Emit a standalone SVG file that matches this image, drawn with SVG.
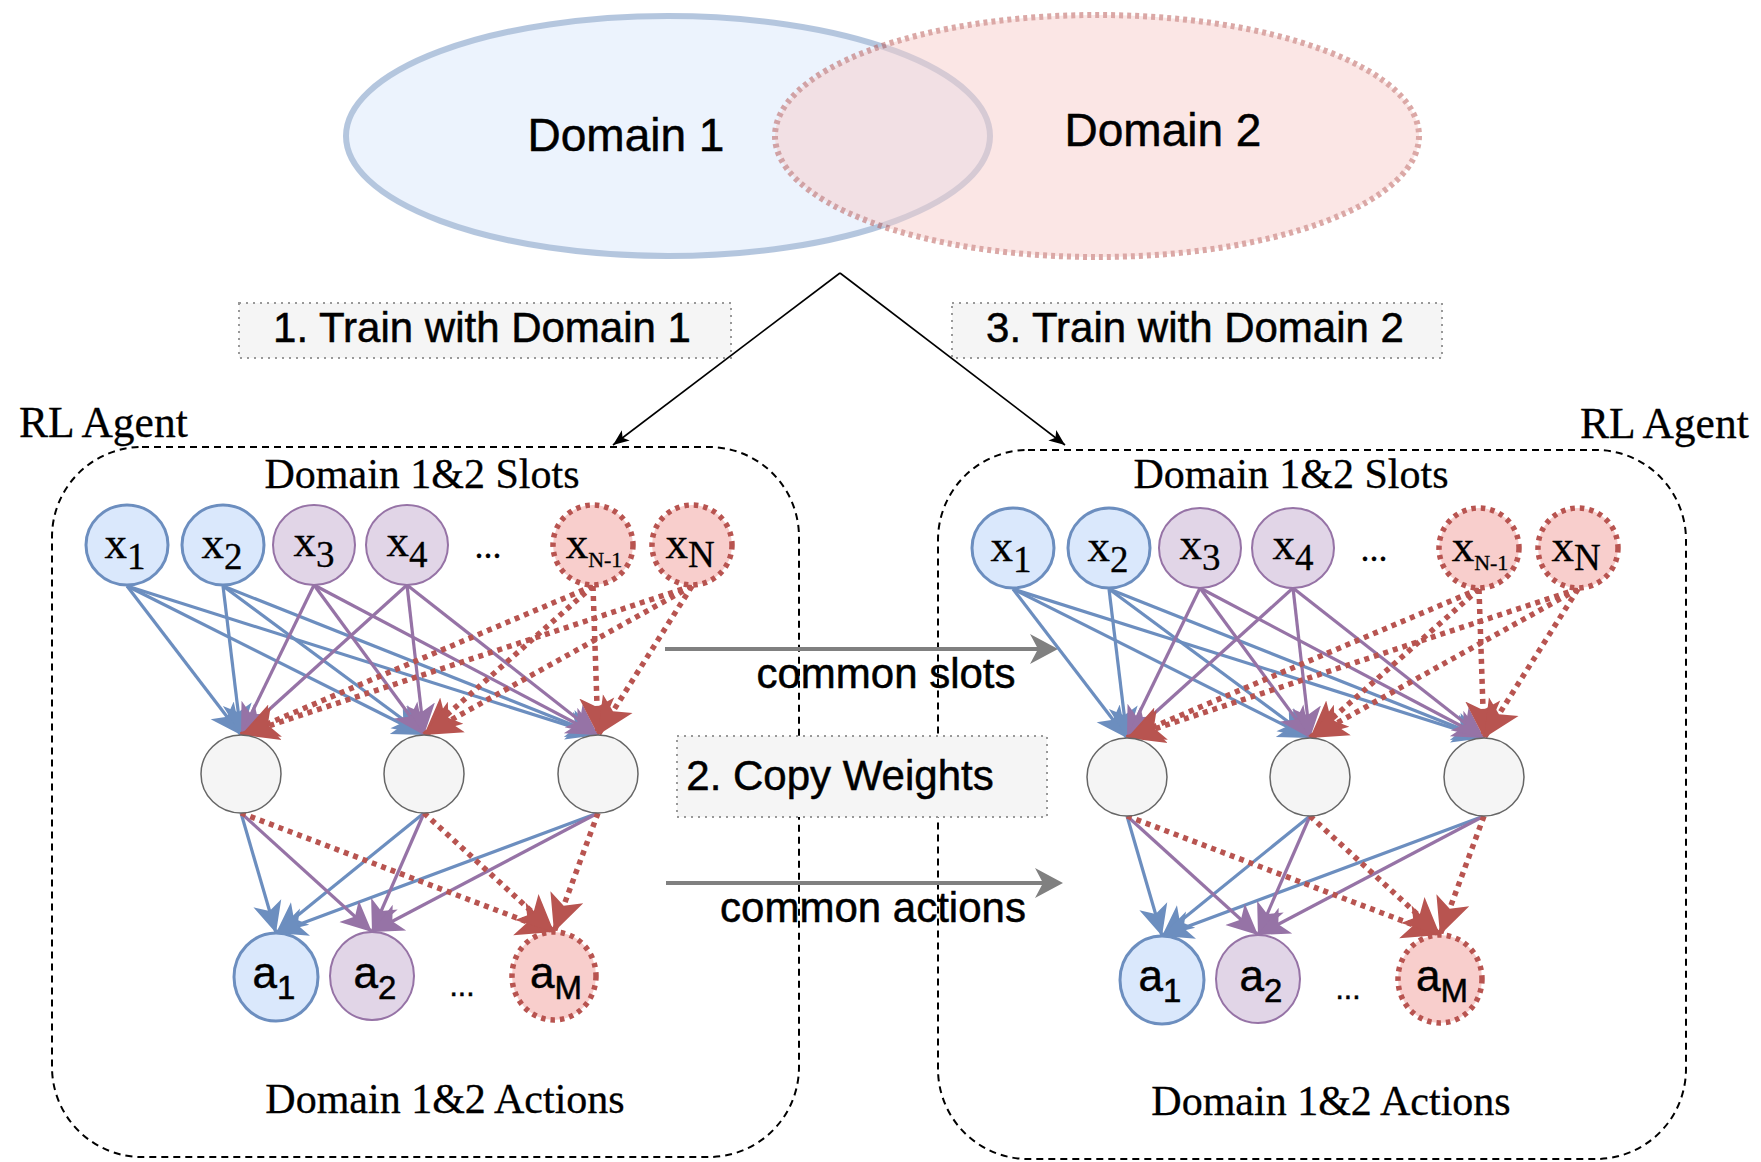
<svg xmlns="http://www.w3.org/2000/svg" width="1761" height="1162" viewBox="0 0 1761 1162">
<style>
.sans{font-family:"Liberation Sans",Arial,Helvetica,sans-serif;fill:#000;stroke:#000;stroke-width:0.5}
.serif{font-family:"Liberation Serif","Times New Roman",serif;fill:#000;stroke:#000;stroke-width:0.3}
.bn{fill:#dae8fc;stroke:#6c8ebf;stroke-width:3}
.pn{fill:#e1d5e7;stroke:#9673a6;stroke-width:2}
.rn{fill:#f8cecc;stroke:#b85450;stroke-width:5.5;stroke-dasharray:4.5 5}
.hn{fill:#f5f5f5;stroke:#666;stroke-width:1.5}
.eb{stroke:#6c8ebf;stroke-width:3.2;fill:none;marker-end:url(#mb)}
.ep{stroke:#9673a6;stroke-width:3.2;fill:none;marker-end:url(#mp)}
.er{stroke:#b85450;stroke-width:5.5;stroke-dasharray:5 5;fill:none;marker-end:url(#mr)}
.agent{fill:none;stroke:#000;stroke-width:2;stroke-dasharray:7 5}
.lbl{fill:#f5f5f5;stroke:#999;stroke-width:2;stroke-dasharray:2 5}
.xl{font-size:45px}
.al{font-size:44px}
</style>
<defs>
<marker id="mb" viewBox="0 0 32 32" refX="31" refY="16" markerWidth="32" markerHeight="32" markerUnits="userSpaceOnUse" orient="auto"><path d="M0,1.5 L31,16 L0,30.5 L8,16 Z" fill="#6c8ebf"/></marker>
<marker id="mp" viewBox="0 0 32 32" refX="31" refY="16" markerWidth="32" markerHeight="32" markerUnits="userSpaceOnUse" orient="auto"><path d="M0,1.5 L31,16 L0,30.5 L8,16 Z" fill="#9673a6"/></marker>
<marker id="mr" viewBox="0 0 38 38" refX="37" refY="19" markerWidth="38" markerHeight="38" markerUnits="userSpaceOnUse" orient="auto"><path d="M0,1.5 L37,19 L0,36.5 L9,19 Z" fill="#b85450"/></marker>
<marker id="mg" viewBox="0 0 30 30" refX="8" refY="15" markerWidth="30" markerHeight="30" markerUnits="userSpaceOnUse" orient="auto"><path d="M0,0 L28,15 L0,30 L8,15 Z" fill="#808080"/></marker>
<marker id="mk" viewBox="0 0 17 14" refX="16" refY="7" markerWidth="17" markerHeight="14" markerUnits="userSpaceOnUse" orient="auto"><path d="M0,0.5 L16,7 L0,13.5 L4,7 Z" fill="#000"/></marker>
</defs>
<rect width="1761" height="1162" fill="#fff"/>

<g id="domain1">
<ellipse cx="668" cy="136" rx="322" ry="120" fill="#dae8fc" stroke="#6c8ebf" stroke-width="6" opacity="0.5"/>
<text class="sans" x="626" y="151" font-size="46" text-anchor="middle">Domain 1</text>
</g>
<g id="domain2">
<ellipse cx="1097" cy="136" rx="322" ry="121" fill="#f8cecc" stroke="#b85450" stroke-width="6" stroke-dasharray="4 4" opacity="0.5"/>
<text class="sans" x="1163" y="146" font-size="46" text-anchor="middle">Domain 2</text>
</g>

<g id="step1">
<rect class="lbl" x="239" y="303" width="492" height="55"/>
<text class="sans" x="482" y="342" font-size="42" text-anchor="middle">1. Train with Domain 1</text>
</g>
<g id="step3">
<rect class="lbl" x="952" y="303" width="490" height="55"/>
<text class="sans" x="1195" y="342" font-size="42" text-anchor="middle">3. Train with Domain 2</text>
</g>

<g id="agent-left">
<rect class="agent" x="52" y="447" width="747" height="710" rx="90" ry="90"/>
<text class="serif" x="19" y="437" font-size="43.5">RL Agent</text>
<text class="serif" x="422" y="488" font-size="42" text-anchor="middle">Domain 1&amp;2 Slots</text>
<text class="serif" x="445" y="1113" font-size="42" text-anchor="middle">Domain 1&amp;2 Actions</text>
</g>
<g id="agent-right">
<rect class="agent" x="938" y="450" width="748" height="709" rx="90" ry="90"/>
<text class="serif" x="1580" y="438" font-size="43.5">RL Agent</text>
<text class="serif" x="1291" y="488" font-size="42" text-anchor="middle">Domain 1&amp;2 Slots</text>
<text class="serif" x="1331" y="1115" font-size="42" text-anchor="middle">Domain 1&amp;2 Actions</text>
</g>

<g id="step2">
<rect class="lbl" x="677" y="736" width="370" height="81"/>
<text class="sans" x="840" y="790" font-size="42" text-anchor="middle">2. Copy Weights</text>
</g>

<g id="connectors">
<path d="M840,273 L613,445" stroke="#000" stroke-width="1.6" fill="none" marker-end="url(#mk)"/>
<path d="M840,273 L1065,445" stroke="#000" stroke-width="1.6" fill="none" marker-end="url(#mk)"/>
<path d="M665,649 L1038,649" stroke="#808080" stroke-width="4" fill="none" marker-end="url(#mg)"/>
<text class="sans" x="886" y="688" font-size="42" text-anchor="middle">common slots</text>
<path d="M666,883 L1043,883" stroke="#808080" stroke-width="4" fill="none" marker-end="url(#mg)"/>
<text class="sans" x="873" y="922" font-size="42" text-anchor="middle">common actions</text>
<g id="net-edges-left">
<path class="eb" d="M127,586 L241,735"/><path class="eb" d="M127,586 L424,735"/><path class="eb" d="M127,586 L598,735"/>
<path class="eb" d="M223,586 L241,735"/><path class="eb" d="M223,586 L424,735"/><path class="eb" d="M223,586 L598,735"/>
<path class="ep" d="M314,585 L241,735"/><path class="ep" d="M314,585 L424,735"/><path class="ep" d="M314,585 L598,735"/>
<path class="ep" d="M407,585 L241,735"/><path class="ep" d="M407,585 L424,735"/><path class="ep" d="M407,585 L598,735"/>
<path class="er" d="M593,586 L241,735"/><path class="er" d="M593,586 L424,735"/><path class="er" d="M593,586 L598,735"/>
<path class="er" d="M692,586 L241,735"/><path class="er" d="M692,586 L424,735"/><path class="er" d="M692,586 L598,735"/>
<path class="eb" d="M241,813 L276,933"/><path class="eb" d="M424,813 L276,933"/><path class="eb" d="M598,813 L276,933"/>
<path class="ep" d="M241,813 L372,932"/><path class="ep" d="M424,813 L372,932"/><path class="ep" d="M598,813 L372,932"/>
<path class="er" d="M241,813 L554,932"/><path class="er" d="M424,813 L554,932"/><path class="er" d="M598,813 L554,932"/>
</g>
<g id="net-edges-right" transform="translate(886,3)">
<path class="eb" d="M127,586 L241,735"/><path class="eb" d="M127,586 L424,735"/><path class="eb" d="M127,586 L598,735"/>
<path class="eb" d="M223,586 L241,735"/><path class="eb" d="M223,586 L424,735"/><path class="eb" d="M223,586 L598,735"/>
<path class="ep" d="M314,585 L241,735"/><path class="ep" d="M314,585 L424,735"/><path class="ep" d="M314,585 L598,735"/>
<path class="ep" d="M407,585 L241,735"/><path class="ep" d="M407,585 L424,735"/><path class="ep" d="M407,585 L598,735"/>
<path class="er" d="M593,586 L241,735"/><path class="er" d="M593,586 L424,735"/><path class="er" d="M593,586 L598,735"/>
<path class="er" d="M692,586 L241,735"/><path class="er" d="M692,586 L424,735"/><path class="er" d="M692,586 L598,735"/>
<path class="eb" d="M241,813 L276,933"/><path class="eb" d="M424,813 L276,933"/><path class="eb" d="M598,813 L276,933"/>
<path class="ep" d="M241,813 L372,932"/><path class="ep" d="M424,813 L372,932"/><path class="ep" d="M598,813 L372,932"/>
<path class="er" d="M241,813 L554,932"/><path class="er" d="M424,813 L554,932"/><path class="er" d="M598,813 L554,932"/>
</g>
</g>

<g id="net-left">
<g id="L-x1"><ellipse class="bn" cx="127" cy="545" rx="41" ry="40"/><text class="serif xl" x="125" y="558" text-anchor="middle">x<tspan font-size="37" dy="11">1</tspan></text></g>
<g id="L-x2"><ellipse class="bn" cx="223" cy="545" rx="41" ry="40"/><text class="serif xl" x="222" y="558" text-anchor="middle">x<tspan font-size="37" dy="11">2</tspan></text></g>
<g id="L-x3"><ellipse class="pn" cx="314" cy="545" rx="41" ry="40"/><text class="serif xl" x="314" y="556" text-anchor="middle">x<tspan font-size="37" dy="11">3</tspan></text></g>
<g id="L-x4"><ellipse class="pn" cx="407" cy="545" rx="41" ry="40"/><text class="serif xl" x="407" y="556" text-anchor="middle">x<tspan font-size="37" dy="11">4</tspan></text></g>
<text class="serif" x="488" y="558" font-size="36" text-anchor="middle">...</text>
<g id="L-xN-1"><ellipse class="rn" cx="593" cy="545" rx="40" ry="40"/><text class="serif xl" x="594" y="558" text-anchor="middle">x<tspan font-size="22" dy="9">N-1</tspan></text></g>
<g id="L-xN"><ellipse class="rn" cx="692" cy="545" rx="40" ry="40"/><text class="serif xl" x="690" y="558" text-anchor="middle">x<tspan font-size="37" dy="9">N</tspan></text></g>
<g id="L-h1"><ellipse class="hn" cx="241" cy="774" rx="40" ry="39"/></g>
<g id="L-h2"><ellipse class="hn" cx="424" cy="774" rx="40" ry="39"/></g>
<g id="L-h3"><ellipse class="hn" cx="598" cy="774" rx="40" ry="39"/></g>
<g id="L-a1"><ellipse class="bn" cx="276" cy="977" rx="42" ry="44"/><text class="sans al" x="274" y="988" text-anchor="middle">a<tspan font-size="33" dy="11">1</tspan></text></g>
<g id="L-a2"><ellipse class="pn" cx="372" cy="976" rx="42" ry="44"/><text class="sans al" x="375" y="988" text-anchor="middle">a<tspan font-size="33" dy="11">2</tspan></text></g>
<text class="sans" x="462" y="996" font-size="30" text-anchor="middle">...</text>
<g id="L-aM"><ellipse class="rn" cx="554" cy="976" rx="42" ry="44"/><text class="sans al" x="556" y="988" text-anchor="middle">a<tspan font-size="33" dy="11">M</tspan></text></g>
</g>

<g id="net-right" transform="translate(886,3)">
<g id="R-x1"><ellipse class="bn" cx="127" cy="545" rx="41" ry="40"/><text class="serif xl" x="125" y="558" text-anchor="middle">x<tspan font-size="37" dy="11">1</tspan></text></g>
<g id="R-x2"><ellipse class="bn" cx="223" cy="545" rx="41" ry="40"/><text class="serif xl" x="222" y="558" text-anchor="middle">x<tspan font-size="37" dy="11">2</tspan></text></g>
<g id="R-x3"><ellipse class="pn" cx="314" cy="545" rx="41" ry="40"/><text class="serif xl" x="314" y="556" text-anchor="middle">x<tspan font-size="37" dy="11">3</tspan></text></g>
<g id="R-x4"><ellipse class="pn" cx="407" cy="545" rx="41" ry="40"/><text class="serif xl" x="407" y="556" text-anchor="middle">x<tspan font-size="37" dy="11">4</tspan></text></g>
<text class="serif" x="488" y="558" font-size="36" text-anchor="middle">...</text>
<g id="R-xN-1"><ellipse class="rn" cx="593" cy="545" rx="40" ry="40"/><text class="serif xl" x="594" y="558" text-anchor="middle">x<tspan font-size="22" dy="9">N-1</tspan></text></g>
<g id="R-xN"><ellipse class="rn" cx="692" cy="545" rx="40" ry="40"/><text class="serif xl" x="690" y="558" text-anchor="middle">x<tspan font-size="37" dy="9">N</tspan></text></g>
<g id="R-h1"><ellipse class="hn" cx="241" cy="774" rx="40" ry="39"/></g>
<g id="R-h2"><ellipse class="hn" cx="424" cy="774" rx="40" ry="39"/></g>
<g id="R-h3"><ellipse class="hn" cx="598" cy="774" rx="40" ry="39"/></g>
<g id="R-a1"><ellipse class="bn" cx="276" cy="977" rx="42" ry="44"/><text class="sans al" x="274" y="988" text-anchor="middle">a<tspan font-size="33" dy="11">1</tspan></text></g>
<g id="R-a2"><ellipse class="pn" cx="372" cy="976" rx="42" ry="44"/><text class="sans al" x="375" y="988" text-anchor="middle">a<tspan font-size="33" dy="11">2</tspan></text></g>
<text class="sans" x="462" y="996" font-size="30" text-anchor="middle">...</text>
<g id="R-aM"><ellipse class="rn" cx="554" cy="976" rx="42" ry="44"/><text class="sans al" x="556" y="988" text-anchor="middle">a<tspan font-size="33" dy="11">M</tspan></text></g>
</g>
</svg>
